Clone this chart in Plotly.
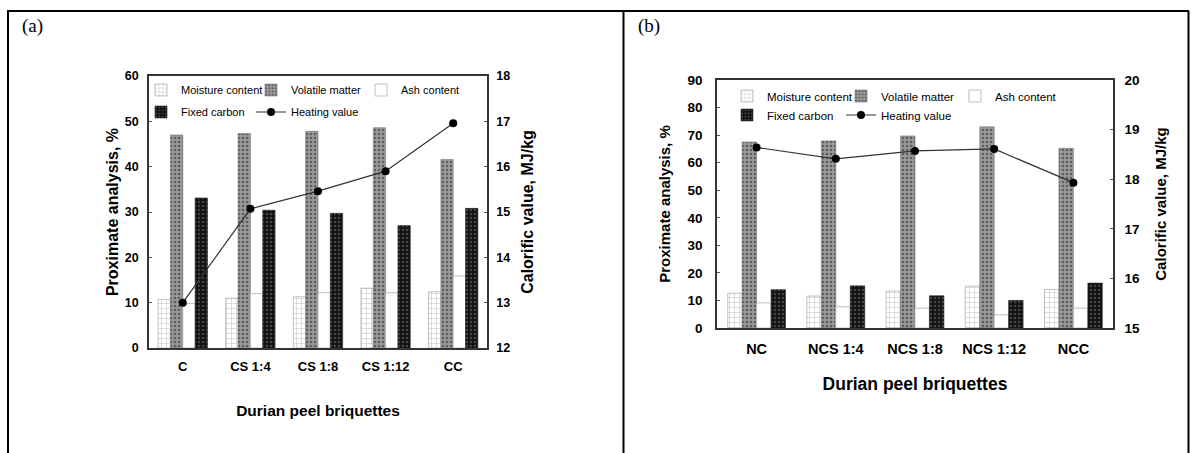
import plotly.graph_objects as go

# ---------------- data ----------------
cats_a = ["C", "CS 1:4", "CS 1:8", "CS 1:12", "CC"]
moist_a = [10.7, 11.0, 11.3, 13.2, 12.4]
vol_a = [47.0, 47.3, 47.8, 48.6, 41.6]
ash_a = [9.8, 12.0, 12.2, 12.2, 15.9]
fixed_a = [33.1, 30.4, 29.7, 27.0, 30.8]
heat_a = [13.0, 15.07, 15.46, 15.9, 16.96]

cats_b = ["NC", "NCS 1:4", "NCS 1:8", "NCS 1:12", "NCC"]
moist_b = [12.6, 11.6, 13.4, 15.2, 14.0]
vol_b = [67.5, 67.9, 69.7, 73.0, 65.2]
ash_b = [9.1, 7.7, 7.2, 4.8, 7.2]
fixed_b = [13.9, 15.3, 11.7, 10.0, 16.3]
heat_b = [18.64, 18.41, 18.57, 18.61, 17.93]

names = ["Moisture content", "Volatile matter", "Ash content", "Fixed carbon", "Heating value"]

ARIAL = "Liberation Sans, Arial, sans-serif"

styles = [
    dict(color="white", pattern=dict(shape="+", fgcolor="#a8a8a8", bgcolor="white", size=5, solidity=0.15, fillmode="replace"),
         line=dict(color="#9a9a9a", width=0.6)),
    dict(color="#8c8c8c", pattern=dict(shape=".", fgcolor="#5e5e5e", bgcolor="#9a9a9a", size=4, solidity=0.35, fillmode="replace"),
         line=dict(color="#777", width=0.6)),
    dict(color="white", line=dict(color="#b0b0b0", width=0.8)),
    dict(color="#111111", pattern=dict(shape=".", fgcolor="#444444", bgcolor="#111111", size=4, solidity=0.35, fillmode="replace"),
         line=dict(color="#222", width=0.6)),
]

fig = go.Figure()


def add_panel(cats, series, heat, xa, ya, ya2, lg_row1, lg_row2, last_w):
    for i, (vals, st) in enumerate(zip(series, styles)):
        fig.add_trace(go.Bar(
            x=cats, y=vals, name=names[i], marker=st,
            xaxis=xa, yaxis=ya,
            legend=lg_row1 if i < 3 else lg_row2,
        ))
    fig.add_trace(go.Scatter(
        x=cats, y=heat, name=names[4], mode="lines+markers",
        line=dict(color="#333333", width=1.2),
        marker=dict(color="black", size=8),
        xaxis=xa, yaxis=ya2, legend=lg_row2, legendwidth=last_w,
    ))


add_panel(cats_a, [moist_a, vol_a, ash_a, fixed_a], heat_a, "x", "y", "y2", "legend", "legend2", 85)
add_panel(cats_b, [moist_b, vol_b, ash_b, fixed_b], heat_b, "x2", "y3", "y4", "legend3", "legend4", 90)

W, H = 1196, 453


def px_x(p):
    return p / W


def px_y(p):
    return 1 - p / H


def bold(size):
    return dict(family=ARIAL, size=size, color="black", weight="bold")


axis_line = dict(showline=True, linecolor="#333333", linewidth=1.5, showgrid=False, zeroline=False, automargin=False)

layout = dict(
    width=W, height=H, autosize=False,
    margin=dict(l=0, r=0, t=0, b=0),
    paper_bgcolor="white", plot_bgcolor="white",
    barmode="group", bargap=0.27, bargroupgap=0,
    xaxis=dict(domain=[px_x(149), px_x(487)], anchor="y", mirror=True, ticks="",
               tickfont=bold(13), ticklabelstandoff=6,
               title=dict(text="Durian peel briquettes", standoff=32, font=bold(15.5)),
               **axis_line),
    yaxis=dict(domain=[px_y(348), px_y(76)], anchor="x", range=[0, 60], dtick=10,
               ticks="inside", ticklen=3, tickcolor="#555", tickfont=bold(12.5), ticklabelstandoff=6,
               title=dict(text="Proximate analysis, %", standoff=2, font=bold(16)),
               **axis_line),
    yaxis2=dict(overlaying="y", side="right", anchor="x", range=[12, 18], dtick=1,
                ticks="inside", ticklen=3, tickcolor="#555", tickfont=bold(12.5), ticklabelstandoff=5,
                title=dict(text="Calorific value, MJ/kg", standoff=13, font=bold(16)),
                **axis_line),
    xaxis2=dict(domain=[px_x(717), px_x(1113)], anchor="y3", mirror=True, ticks="",
                tickfont=bold(14.5), ticklabelstandoff=7,
                title=dict(text="Durian peel briquettes", standoff=22, font=bold(17.5)),
                **axis_line),
    yaxis3=dict(domain=[px_y(328), px_y(80)], anchor="x2", range=[0, 90], dtick=10,
                ticks="inside", ticklen=3, tickcolor="#555", tickfont=bold(13.5), ticklabelstandoff=10,
                title=dict(text="Proximate analysis, %", standoff=13, font=bold(15)),
                **axis_line),
    yaxis4=dict(overlaying="y3", side="right", anchor="x2", range=[15, 20], dtick=1,
                ticks="inside", ticklen=3, tickcolor="#555", tickfont=bold(13.5), ticklabelstandoff=7,
                title=dict(text="Calorific value, MJ/kg", standoff=17, font=bold(15)),
                **axis_line),
)

leg_common = dict(orientation="h", xanchor="left", yanchor="middle", bgcolor="rgba(0,0,0,0)",
                  entrywidthmode="pixels", tracegroupgap=0, borderwidth=0)
layout["legend"] = dict(x=px_x(141), y=px_y(90), entrywidth=65,
                        font=dict(family=ARIAL, size=11, color="black"), **leg_common)
layout["legend2"] = dict(x=px_x(141), y=px_y(112), entrywidth=65,
                         font=dict(family=ARIAL, size=11, color="black"), **leg_common)
layout["legend3"] = dict(x=px_x(727), y=px_y(96), entrywidth=69,
                         font=dict(family=ARIAL, size=11.5, color="black"), **leg_common)
layout["legend4"] = dict(x=px_x(727), y=px_y(115), entrywidth=69,
                         font=dict(family=ARIAL, size=11.5, color="black"), **leg_common)

fig.update_layout(**layout)

# table borders around the two panels
border = dict(color="black", width=2)
for (x0, y0, x1, y1) in [(7, 11, 1189, 11), (8, 11, 8, 453), (623.5, 11, 623.5, 453), (1188.5, 11, 1188.5, 453)]:
    fig.add_shape(type="line", xref="paper", yref="paper",
                  x0=px_x(x0), y0=px_y(y0), x1=px_x(x1), y1=px_y(y1), line=border)

# panel labels
for txt, xl in [("(a)", 20), ("(b)", 636)]:
    fig.add_annotation(text=txt, xref="paper", yref="paper", x=px_x(xl), y=px_y(26),
                       xanchor="left", yanchor="middle", showarrow=False,
                       font=dict(family="Liberation Serif, Times New Roman, serif", size=19, color="black"))

fig.write_html("out.html")
